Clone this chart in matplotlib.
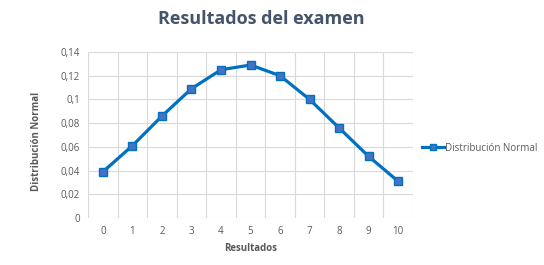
import matplotlib
matplotlib.use('Agg')
import matplotlib.pyplot as plt
import numpy as np

# Datos
resultados = [0, 1, 2, 3, 4, 5, 6, 7, 8, 9, 10]
distribucion = [0.039, 0.061, 0.086, 0.109, 0.125, 0.129, 0.120, 0.100, 0.076, 0.052, 0.031]
yticks = [0, 0.02, 0.04, 0.06, 0.08, 0.10, 0.12, 0.14]
ytick_labels = ['0', '0,02', '0,04', '0,06', '0,08', '0,1', '0,12', '0,14']

plt.rcParams['font.family'] = ['Open Sans', 'DejaVu Sans']

fig = plt.figure(figsize=(5.44, 2.65), dpi=100)
ax = fig.add_axes([0.162, 0.177, 0.597, 0.627])

ax.plot(resultados, distribucion, color='#0070C0', linewidth=2.3,
        marker='s', markersize=5.5, markerfacecolor='#4472C4',
        markeredgecolor='#0070C0', markeredgewidth=1.0,
        label='Distribución Normal', zorder=3)

ax.set_xlim(-0.5, 10.5)
ax.set_ylim(0, 0.14)
ax.set_yticks(yticks)
ax.set_yticklabels(ytick_labels)
ax.set_xticks(resultados)
ax.set_xticks(np.arange(-0.5, 11, 1), minor=True)

ax.grid(True, which='major', axis='y', color='#D9D9D9', linewidth=0.8)
ax.grid(True, which='minor', axis='x', color='#D9D9D9', linewidth=0.8)
ax.tick_params(which='both', length=0, labelsize=7, labelcolor='#595959', pad=6)
for s in ax.spines.values():
    s.set_visible(False)

ax.set_xlabel('Resultados', fontsize=7, fontweight='bold', color='#595959', labelpad=4)
ax.set_ylabel('Distribución Normal', fontsize=7, fontweight='bold', color='#595959')
ax.yaxis.set_label_coords(-0.143, 0.46)

fig.text(0.48, 0.93, 'Resultados del examen', ha='center', va='center',
         fontsize=13, fontweight='bold', color='#44546A')

leg = ax.legend(loc='center left', bbox_to_anchor=(1.0, 0.42), frameon=False,
                fontsize=7, handlelength=2.3, handletextpad=0.1, markerscale=0.8)
for t in leg.get_texts():
    t.set_color('#595959')

fig.savefig('out.png', dpi=100)
